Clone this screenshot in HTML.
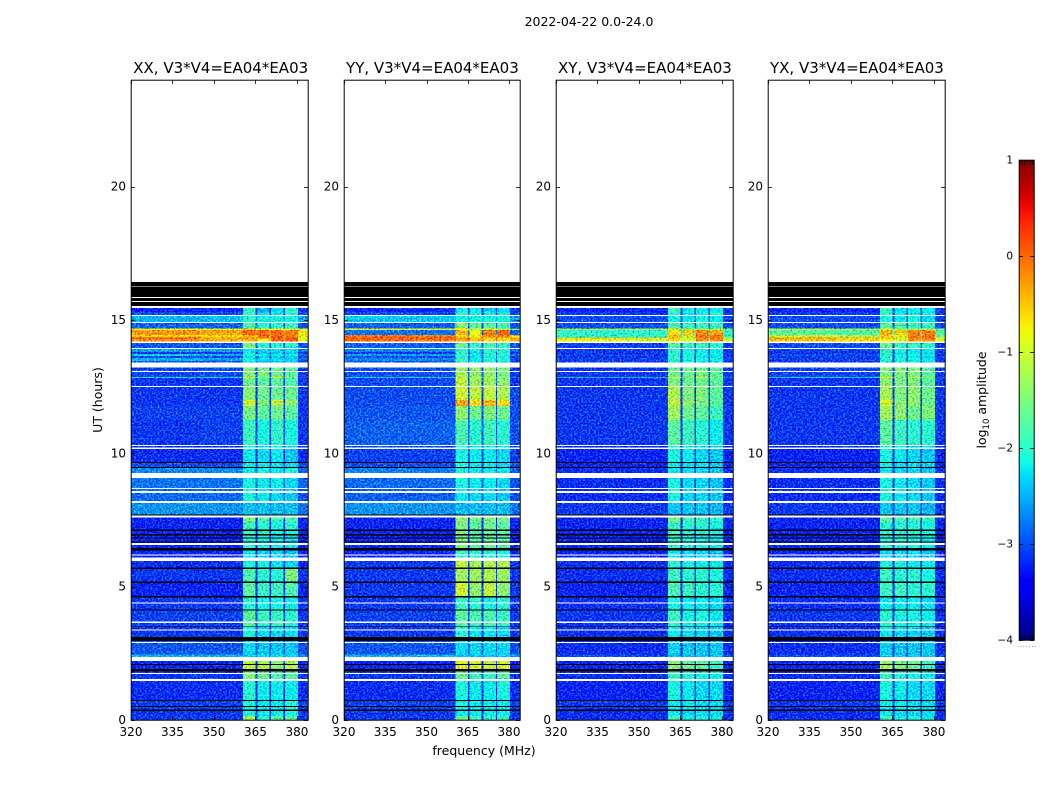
<!DOCTYPE html>
<html lang="en">
<head>
<meta charset="utf-8">
<title>2022-04-22 dynamic spectra</title>
<style>
html,body{margin:0;padding:0;background:#fff;width:1050px;height:800px;overflow:hidden}
svg{display:block}
text{font-family:"DejaVu Sans","Liberation Sans",sans-serif;fill:#000}
</style>
</head>
<body>
<svg id="fig" xmlns="http://www.w3.org/2000/svg" width="1050" height="800" viewBox="0 0 1050 800">
  <defs>
    <linearGradient id="jetGradient" x1="0" y1="1" x2="0" y2="0"></linearGradient>
    <filter id="speckle" x="0" y="0" width="1" height="1" color-interpolation-filters="sRGB">
      <feTurbulence type="fractalNoise" baseFrequency="0.55 0.6" numOctaves="1" seed="4" result="n"/>
      <feColorMatrix in="n" type="matrix" values="0.7 0 0 0 0.15  1.3 0 0 0 -0.15  0 1.1 0 0 -0.05  0 0 0 0 1" result="m"/>
      <feComposite in="SourceGraphic" in2="m" operator="arithmetic" k1="0" k2="1" k3="1" k4="-0.5"/>
    </filter>
  </defs>
  <text x="589" y="26" font-size="12.5" text-anchor="middle">2022-04-22 0.0-24.0</text>
  <text transform="translate(102,400) rotate(-90)" font-size="12.5" text-anchor="middle">UT (hours)</text>
  <text x="484" y="755" font-size="12.5" text-anchor="middle">frequency (MHz)</text>
  <text transform="translate(986,400) rotate(-90)" font-size="12.5" text-anchor="middle">log<tspan font-size="8.5" dy="3">10</tspan><tspan dy="-3"> amplitude</tspan></text>
  <g id="panels"></g>
  <g id="colorbar"></g>
</svg>
<script>
// Panel names and tick labels
const panelNames = ['XX', 'YY', 'XY', 'YX'];
const baselineLabel = 'V3*V4=EA04*EA03';
const freqTicks = [320, 335, 350, 365, 380];
const timeTicks = [0, 5, 10, 15, 20];
const colorTicks = [-4, -3, -2, -1, 0, 1];

// Frequency cell edges (MHz) and which amplitude column fills each cell
const freqEdges = [320, 345, 360.5, 365, 365.7, 370, 370.7, 375.2, 375.7, 380.4, 384];
const freqColumn = [0, 1, 2, 1, 3, 1, 4, 1, 5, 6];

// Time row edges (hours, top to bottom)
const timeEdges = [15.45,15.30,15.19,14.93,14.69,14.62,14.44,14.34,14.31,14.19,13.95,13.80,13.73,13.65,13.58,13.46,13.21,12.86,12.83,12.49,12.00,11.78,11.25,10.30,9.68,9.45,9.27,8.70,8.22,7.71,7.42,6.98,6.35,5.97,5.66,5.19,4.65,4.10,3.50,2.97,2.45,2.21,1.91,1.50,0.75,0.33,0.15,0];

// log10 amplitude per row: [low band, mid band, block 1, block 2, block 3, block 4, top band]
const ampXX = [
[-3.2,-3.2,-1.9,-2.5,-2.3,-2.0,-3.1],[-3.0,-3.0,-2.0,-2.3,-2.2,-2.0,-3.0],[-2.5,-2.45,-2.0,-2.1,-2.1,-2.1,-2.6],[-2.9,-2.9,-1.8,-2.0,-2.0,-1.9,-3.0],
[-0.85,-0.9,-0.5,-0.9,-0.8,-1.0,-1.0],[-0.25,-0.3,0.05,0.0,0.0,-0.1,-0.7],[-0.55,-0.65,-0.4,0.0,0.05,-0.1,-0.9],[0.3,-0.2,-0.2,0.0,0.05,0.1,-0.8],
[-0.2,-0.4,-0.4,-0.8,0.05,0.1,-0.9],[-2.95,-2.95,-1.5,-2.0,-2.0,-2.0,-3.0],[-2.6,-2.6,-2.2,-2.3,-2.3,-2.3,-2.8],[-3.1,-3.1,-2.2,-2.4,-2.4,-2.4,-3.1],
[-2.4,-2.5,-2.0,-2.2,-2.2,-2.2,-2.8],[-3.0,-3.0,-2.2,-2.4,-2.4,-2.4,-3.1],[-2.5,-2.6,-2.1,-2.3,-2.3,-2.3,-2.9],[-3.0,-3.0,-2.2,-2.4,-2.4,-2.4,-3.1],
[-3.05,-3.0,-1.5,-1.5,-1.6,-1.7,-3.1],[-2.3,-2.3,-0.7,-1.6,-0.7,-1.5,-2.9],[-3.1,-3.1,-1.6,-1.7,-1.7,-1.8,-3.1],[-3.1,-3.1,-1.45,-1.6,-1.6,-1.6,-3.1],
[-3.1,-3.1,-1.0,-1.5,-1.1,-1.4,-3.1],[-3.05,-3.05,-1.55,-1.7,-1.6,-1.7,-3.1],[-3.1,-3.05,-1.9,-2.1,-1.95,-2.1,-3.1],[-3.15,-3.15,-2.2,-2.3,-2.2,-2.4,-3.15],
[-3.0,-3.0,-2.2,-2.2,-2.3,-2.3,-3.0],[-2.7,-2.7,-2.2,-2.1,-2.2,-2.1,-2.9],[-2.8,-2.8,-2.1,-2.2,-2.2,-2.3,-2.9],[-2.85,-2.85,-2.1,-2.2,-2.3,-2.4,-3.0],
[-2.65,-2.65,-2.45,-2.45,-2.45,-2.45,-2.8],[-3.2,-3.2,-1.5,-1.8,-1.9,-1.8,-3.2],[-3.2,-3.2,-1.9,-2.0,-2.1,-2.0,-3.2],[-3.2,-3.2,-2.0,-2.1,-2.2,-2.2,-3.2],
[-3.2,-3.2,-2.2,-2.3,-2.3,-2.4,-3.2],[-3.15,-3.15,-2.1,-2.1,-2.2,-2.3,-3.2],[-3.1,-3.1,-1.8,-2.0,-2.0,-1.5,-3.1],[-3.2,-3.2,-1.7,-1.9,-1.9,-1.8,-3.2],
[-3.1,-3.1,-2.0,-2.1,-2.1,-2.2,-3.1],[-3.05,-3.05,-1.7,-1.9,-1.9,-2.0,-3.1],[-3.1,-3.1,-2.1,-2.3,-2.3,-2.3,-3.1],[-2.95,-2.95,-2.3,-2.4,-2.4,-2.4,-3.0],
[-2.5,-2.5,-2.4,-2.3,-2.3,-2.3,-2.7],[-3.2,-3.2,-1.1,-1.2,-1.4,-1.2,-3.2],[-3.1,-3.1,-1.5,-1.6,-1.8,-1.7,-3.1],[-3.15,-3.15,-2.0,-2.2,-2.2,-2.2,-3.15],
[-3.05,-3.05,-2.1,-2.2,-2.2,-2.0,-3.05],[-3.1,-3.1,-2.1,-2.2,-2.2,-2.1,-3.1],[-3.1,-3.1,-1.3,-2.0,-1.7,-1.7,-3.1]
];
const ampYY = [
[-3.2,-3.2,-2.2,-2.2,-2.4,-2.3,-3.1],[-3.0,-3.0,-2.0,-2.2,-2.2,-2.2,-3.0],[-2.4,-2.4,-2.1,-2.1,-2.1,-2.1,-2.6],[-2.9,-2.9,-1.4,-1.7,-1.7,-1.8,-3.0],
[-0.9,-0.9,-0.9,-1.1,-1.0,-1.2,-1.5],[-2.8,-2.8,-0.4,-0.8,-0.1,0.0,-2.9],[-0.05,-0.1,-0.6,-0.9,-0.2,-0.1,-0.6],[0.15,0.1,-0.3,-0.5,-0.6,-0.5,-0.2],
[0.0,-0.05,-0.3,-0.5,-0.6,-0.6,-0.4],[-2.9,-2.9,-1.6,-1.9,-1.8,-1.9,-3.0],[-2.7,-2.7,-2.0,-2.2,-2.0,-2.0,-2.9],[-3.1,-3.1,-2.0,-2.3,-2.1,-2.1,-3.1],
[-2.6,-2.6,-1.9,-2.1,-1.9,-2.0,-2.9],[-3.0,-3.0,-2.0,-2.3,-2.1,-2.1,-3.1],[-2.7,-2.7,-1.9,-2.2,-2.0,-2.0,-3.0],[-3.0,-3.0,-2.0,-2.2,-2.1,-2.2,-3.1],
[-3.0,-3.0,-1.3,-1.4,-1.4,-1.5,-3.1],[-2.4,-2.4,-0.6,-1.2,-1.0,-1.4,-2.9],[-3.0,-3.0,-1.1,-1.3,-1.3,-1.4,-3.1],[-3.0,-3.0,-1.0,-1.1,-1.1,-1.2,-3.0],
[-3.0,-3.0,-0.3,-0.6,-0.4,-0.6,-3.0],[-2.95,-2.95,-1.4,-1.6,-1.5,-1.6,-3.0],[-2.9,-2.9,-1.8,-2.0,-1.9,-2.0,-3.0],[-3.05,-3.05,-2.1,-2.2,-2.2,-2.3,-3.05],
[-3.0,-3.0,-2.1,-2.2,-2.2,-2.3,-3.0],[-2.75,-2.75,-2.1,-2.2,-2.2,-2.2,-2.9],[-2.85,-2.85,-2.1,-2.2,-2.2,-2.3,-3.0],[-2.9,-2.9,-2.2,-2.3,-2.3,-2.4,-3.0],
[-2.65,-2.65,-2.45,-2.45,-2.45,-2.45,-2.8],[-3.2,-3.2,-1.4,-1.6,-1.5,-1.5,-3.2],[-3.2,-3.2,-1.5,-1.7,-1.6,-1.7,-3.2],[-3.2,-3.2,-1.5,-1.7,-1.6,-1.7,-3.2],
[-3.2,-3.2,-1.9,-2.0,-2.0,-2.1,-3.2],[-3.1,-3.1,-1.1,-1.3,-1.2,-1.2,-3.1],[-3.1,-3.1,-1.3,-1.3,-1.2,-1.3,-3.1],[-3.1,-3.1,-1.0,-1.4,-1.1,-1.4,-3.1],
[-3.1,-3.1,-1.9,-2.0,-2.1,-2.0,-3.1],[-3.05,-3.05,-1.7,-1.8,-1.8,-1.9,-3.1],[-3.1,-3.1,-2.0,-2.2,-2.2,-2.3,-3.1],[-2.95,-2.95,-2.3,-2.3,-2.3,-2.3,-3.0],
[-2.5,-2.5,-2.4,-2.4,-2.4,-2.4,-2.6],[-3.2,-3.2,-0.9,-1.0,-1.1,-1.0,-3.2],[-3.1,-3.1,-1.6,-1.9,-1.9,-1.7,-3.1],[-3.15,-3.15,-2.1,-2.2,-2.2,-2.1,-3.15],
[-3.05,-3.05,-2.1,-2.2,-2.2,-2.2,-3.05],[-3.1,-3.1,-2.2,-2.2,-2.2,-2.2,-3.1],[-3.1,-3.1,-1.6,-1.9,-1.9,-1.9,-3.1]
];
const ampXY = [
[-3.2,-3.2,-1.9,-2.2,-2.2,-2.2,-3.1],[-3.1,-3.1,-2.0,-2.2,-2.2,-2.1,-3.1],[-3.0,-3.0,-2.1,-2.2,-2.1,-2.2,-3.05],[-3.0,-3.0,-1.8,-1.9,-1.9,-1.9,-3.0],
[-1.3,-1.3,-1.0,-1.3,-1.2,-1.3,-1.5],[-1.95,-1.95,-0.6,-0.5,-0.15,-0.3,-1.9],[-2.0,-2.0,-0.5,-1.1,-0.05,-0.05,-2.0],[-0.4,-0.5,-0.4,-0.9,-0.1,-0.1,-1.0],
[-0.9,-1.0,-0.7,-1.0,-0.2,-0.2,-1.1],[-3.05,-3.05,-1.7,-1.9,-1.9,-2.0,-3.1],[-3.1,-3.1,-2.0,-2.1,-2.2,-2.2,-3.1],[-3.1,-3.1,-2.0,-2.1,-2.2,-2.2,-3.1],
[-3.05,-3.05,-2.0,-2.1,-2.1,-2.2,-3.1],[-3.1,-3.1,-2.0,-2.1,-2.2,-2.2,-3.1],[-3.05,-3.05,-2.0,-2.1,-2.1,-2.2,-3.1],[-3.1,-3.1,-2.1,-2.2,-2.2,-2.3,-3.1],
[-3.1,-3.1,-1.6,-1.6,-1.6,-1.7,-3.1],[-2.5,-2.5,-0.8,-1.5,-0.8,-1.5,-2.9],[-3.1,-3.1,-1.5,-1.6,-1.6,-1.7,-3.1],[-3.1,-3.1,-1.2,-1.5,-1.5,-1.7,-3.1],
[-3.1,-3.1,-1.1,-1.4,-1.5,-1.7,-3.1],[-3.1,-3.1,-1.3,-1.6,-1.7,-1.9,-3.1],[-3.1,-3.1,-1.7,-1.9,-2.0,-2.2,-3.1],[-3.2,-3.2,-2.1,-2.2,-2.3,-2.4,-3.2],
[-3.2,-3.2,-2.2,-2.3,-2.3,-2.4,-3.2],[-3.15,-3.15,-2.2,-2.3,-2.3,-2.4,-3.15],[-3.15,-3.15,-2.1,-2.3,-2.3,-2.4,-3.15],[-3.15,-3.15,-2.1,-2.3,-2.3,-2.4,-3.15],
[-3.1,-3.1,-2.4,-2.4,-2.4,-2.5,-3.1],[-3.2,-3.2,-1.6,-1.9,-1.9,-2.0,-3.2],[-3.2,-3.2,-1.9,-2.0,-2.0,-2.1,-3.2],[-3.2,-3.2,-1.9,-2.0,-2.1,-2.2,-3.2],
[-3.2,-3.2,-2.2,-2.3,-2.3,-2.4,-3.2],[-3.15,-3.15,-2.0,-2.1,-2.2,-2.2,-3.15],[-3.15,-3.15,-1.9,-2.0,-2.0,-2.1,-3.15],[-3.2,-3.2,-1.8,-1.9,-2.0,-2.0,-3.2],
[-3.15,-3.15,-2.1,-2.2,-2.2,-2.3,-3.15],[-3.1,-3.1,-1.9,-2.1,-2.1,-2.2,-3.15],[-3.15,-3.15,-2.2,-2.3,-2.3,-2.4,-3.15],[-3.15,-3.15,-2.35,-2.4,-2.4,-2.4,-3.15],
[-3.0,-3.0,-2.4,-2.4,-2.4,-2.4,-3.0],[-3.2,-3.2,-1.4,-1.6,-1.7,-1.9,-3.2],[-3.15,-3.15,-1.9,-2.0,-2.1,-2.2,-3.15],[-3.2,-3.2,-2.1,-2.2,-2.3,-2.3,-3.2],
[-3.1,-3.1,-2.2,-2.2,-2.3,-2.3,-3.1],[-3.15,-3.15,-2.2,-2.3,-2.3,-2.3,-3.15],[-3.15,-3.15,-1.9,-2.1,-2.1,-2.2,-3.15]
];
const ampYX = [
[-3.2,-3.2,-1.9,-2.3,-2.2,-2.2,-3.1],[-3.1,-3.1,-2.0,-2.2,-2.2,-2.2,-3.1],[-3.0,-3.0,-2.1,-2.2,-2.1,-2.3,-3.05],[-3.0,-3.0,-1.7,-1.8,-1.9,-1.9,-3.0],
[-1.2,-1.3,-1.0,-1.3,-1.2,-1.3,-1.6],[-1.7,-1.75,-0.4,-0.5,-0.15,-0.1,-1.8],[-1.1,-1.2,-0.5,-1.0,-0.1,0.0,-1.5],[-0.2,-0.4,-0.5,-0.9,-0.1,-0.05,-1.0],
[-0.5,-0.6,-0.7,-1.0,-0.2,-0.2,-1.0],[-3.0,-3.0,-1.6,-1.9,-1.9,-2.0,-3.1],[-3.05,-3.05,-2.0,-2.1,-2.2,-2.2,-3.1],[-3.1,-3.1,-2.0,-2.2,-2.2,-2.3,-3.1],
[-3.0,-3.0,-2.0,-2.1,-2.1,-2.2,-3.1],[-3.1,-3.1,-2.0,-2.1,-2.2,-2.3,-3.1],[-3.05,-3.05,-2.0,-2.1,-2.1,-2.2,-3.1],[-3.1,-3.1,-2.1,-2.2,-2.2,-2.3,-3.1],
[-3.05,-3.05,-1.5,-1.5,-1.5,-1.7,-3.1],[-2.4,-2.4,-0.7,-1.6,-0.9,-1.4,-2.9],[-3.1,-3.1,-1.4,-1.5,-1.5,-1.7,-3.1],[-3.1,-3.1,-1.25,-1.5,-1.4,-1.6,-3.1],
[-3.1,-3.1,-1.0,-1.4,-1.4,-1.6,-3.1],[-3.1,-3.1,-1.3,-1.4,-1.6,-1.5,-3.1],[-3.1,-3.1,-1.7,-1.9,-2.0,-2.0,-3.1],[-3.2,-3.2,-2.1,-2.2,-2.3,-2.4,-3.2],
[-3.2,-3.2,-2.2,-2.3,-2.3,-2.4,-3.2],[-3.15,-3.15,-2.2,-2.3,-2.3,-2.4,-3.15],[-3.15,-3.15,-2.1,-2.2,-2.3,-2.4,-3.15],[-3.15,-3.15,-2.1,-2.2,-2.3,-2.4,-3.15],
[-3.1,-3.1,-2.4,-2.4,-2.4,-2.5,-3.1],[-3.2,-3.2,-1.7,-1.9,-1.9,-2.0,-3.2],[-3.2,-3.2,-2.0,-2.0,-2.0,-2.1,-3.2],[-3.2,-3.2,-2.0,-2.0,-2.1,-2.2,-3.2],
[-3.2,-3.2,-2.3,-2.3,-2.3,-2.4,-3.2],[-3.15,-3.15,-2.1,-2.1,-2.2,-2.2,-3.15],[-3.15,-3.15,-1.9,-2.0,-2.0,-2.1,-3.15],[-3.2,-3.2,-1.9,-1.9,-2.0,-2.0,-3.2],
[-3.15,-3.15,-2.2,-2.2,-2.2,-2.3,-3.15],[-3.1,-3.1,-2.0,-2.1,-2.1,-2.2,-3.15],[-3.15,-3.15,-2.2,-2.3,-2.3,-2.4,-3.15],[-3.15,-3.15,-2.35,-2.4,-2.4,-2.4,-3.15],
[-3.0,-3.0,-2.4,-2.4,-2.4,-2.4,-3.0],[-3.2,-3.2,-1.3,-1.5,-1.6,-1.9,-3.2],[-3.15,-3.15,-1.9,-2.0,-2.1,-2.2,-3.15],[-3.2,-3.2,-2.1,-2.2,-2.3,-2.3,-3.2],
[-3.1,-3.1,-2.2,-2.2,-2.3,-2.3,-3.1],[-3.15,-3.15,-2.2,-2.3,-2.3,-2.3,-3.15],[-3.15,-3.15,-1.9,-2.1,-2.1,-2.2,-3.15]
];

// Flagged time ranges (hours): [start, end]; shared by all panels
const whiteBands = [[15.15,15.19],[14.89,14.93],[14.14,14.19],[13.91,13.95],[13.21,13.40],[13.05,13.09],[12.49,12.53],[10.28,10.31],[10.17,10.21],[9.08,9.27],[8.66,8.70],[8.52,8.58],[8.14,8.22],[7.59,7.68],[6.57,6.63],[6.16,6.21],[5.97,6.09],[4.36,4.40],[3.64,3.69],[3.35,3.39],[2.89,2.92],[2.21,2.37],[1.73,1.76],[1.47,1.54],[15.45,15.53]];
const blackBands = [[16.28,16.43],[15.86,16.25],[15.71,15.82],[15.53,15.68],[9.64,9.68],[9.45,9.48],[7.67,7.71],[7.09,7.15],[6.91,6.98],[6.80,6.85],[6.65,6.70],[6.35,6.45],[5.66,5.71],[5.14,5.19],[4.59,4.65],[4.10,4.15],[3.50,3.53],[2.97,3.12],[2.06,2.10],[1.81,1.91],[0.71,0.75],[0.49,0.53],[0.33,0.39]];

const panelSeries = [ampXX, ampYY, ampXY, ampYX];
const panelLeft = [131, 344, 556, 768];
const panelWidth = [177, 176, 177, 177];

const SVGNS = 'http://www.w3.org/2000/svg';
const plotTop = 80, plotBottom = 720;
const F_MIN = 320, F_MAX = 384, T_MIN = 0, T_MAX = 24;
const C_MIN = -4, C_MAX = 1, CB_TOP = 160, CB_BOTTOM = 640, CB_LEFT = 1019, CB_W = 15;

function xScale(left, w, f) { return left + (f - F_MIN) / (F_MAX - F_MIN) * w; }
function yScale(t) { return plotBottom - (t - T_MIN) / (T_MAX - T_MIN) * (plotBottom - plotTop); }
function cScale(v) { return CB_BOTTOM - (v - C_MIN) / (C_MAX - C_MIN) * (CB_BOTTOM - CB_TOP); }

function piece(v, pts) {
  if (v <= pts[0][0]) return pts[0][1];
  for (let i = 1; i < pts.length; i++) {
    if (v <= pts[i][0]) {
      const a = pts[i - 1], b = pts[i];
      return a[1] + (v - a[0]) / (b[0] - a[0]) * (b[1] - a[1]);
    }
  }
  return pts[pts.length - 1][1];
}
function jet(v) {
  const n = (v - C_MIN) / (C_MAX - C_MIN);
  const r = piece(n, [[0.35, 0], [0.66, 1], [0.89, 1], [1, 0.5]]);
  const g = piece(n, [[0.125, 0], [0.375, 1], [0.64, 1], [0.91, 0]]);
  const b = piece(n, [[0, 0.5], [0.11, 1], [0.34, 1], [0.65, 0]]);
  return 'rgb(' + Math.round(r * 255) + ',' + Math.round(g * 255) + ',' + Math.round(b * 255) + ')';
}
function make(tag, attrs, parent) {
  const el = document.createElementNS(SVGNS, tag);
  for (const k in attrs) el.setAttribute(k, attrs[k]);
  parent.appendChild(el);
  return el;
}

const panelsRoot = document.getElementById('panels');
panelNames.forEach(function (name, p) {
  const left = panelLeft[p];
  const plotW = panelWidth[p];
  const right = left + plotW;
  const series = panelSeries[p];
  const g = make('g', {}, panelsRoot);
  
  

  const heat = make('g', { 'shape-rendering': 'crispEdges', filter: 'url(#speckle)' }, g);
  
  
  series.forEach(function (row, r) {
    const y0 = yScale(timeEdges[r]), y1 = yScale(timeEdges[r + 1]);
    freqColumn.forEach(function (col, c) {
      const x0 = xScale(left, plotW, freqEdges[c]), x1 = xScale(left, plotW, freqEdges[c + 1]);
      const cell = make('rect', { x: x0, y: y0, width: x1 - x0, height: y1 - y0, fill: jet(row[col]) }, heat);
      
      
    });
  });
  const flags = make('g', { 'shape-rendering': 'crispEdges' }, g);
  
  
  whiteBands.forEach(function (band) {
    const b = make('rect', { x: left, y: yScale(band[1]), width: plotW, height: yScale(band[0]) - yScale(band[1]), fill: '#fff' }, flags);
    
    
  });
  blackBands.forEach(function (band) {
    const b = make('rect', { x: left, y: yScale(band[1]), width: plotW, height: yScale(band[0]) - yScale(band[1]), fill: '#000' }, flags);
    
    
  });

  const frame = make('rect', { x: left + 0.2, y: plotTop + 0.2, width: plotW, height: plotBottom - plotTop, fill: 'none', stroke: '#000', 'stroke-width': 1 }, g);
  
  

  const title = make('text', { x: left + plotW / 2 + (p === 0 ? 1.2 : 0.4), y: 73, 'font-size': 15, 'text-anchor': 'middle' }, g);
  
  
  title.textContent = name + ', ' + baselineLabel;

  freqTicks.forEach(function (f) {
    const x = Math.round(xScale(left, plotW, f)) + 0.5;
    const t1 = make('line', { x1: x, x2: x, y1: plotBottom, y2: plotBottom - 4, stroke: '#000', 'stroke-width': 0.8 }, g);
    
    
    const t2 = make('line', { x1: x, x2: x, y1: plotTop, y2: plotTop + 4, stroke: '#000', 'stroke-width': 0.8 }, g);
    
    
    const lab = make('text', { x: xScale(left, plotW, f), y: 736, 'font-size': 12, 'text-anchor': 'middle' }, g);
    
    
    lab.textContent = String(f);
  });
  timeTicks.forEach(function (t) {
    const y = Math.round(yScale(t)) + 0.5;
    const t1 = make('line', { x1: left, x2: left + 4, y1: y, y2: y, stroke: '#000', 'stroke-width': 0.8 }, g);
    
    
    const t2 = make('line', { x1: right, x2: right - 4, y1: y, y2: y, stroke: '#000', 'stroke-width': 0.8 }, g);
    
    
    const lab = make('text', { x: left - 5, y: yScale(t) + 4, 'font-size': 12, 'text-anchor': 'end' }, g);
    
    
    lab.textContent = String(t);
  });
});

// Colorbar
const grad = document.getElementById('jetGradient');
for (let i = 0; i <= 40; i++) {
  const v = C_MIN + (C_MAX - C_MIN) * i / 40;
  make('stop', { offset: (i / 40), 'stop-color': jet(v) }, grad);
}
const cbRoot = document.getElementById('colorbar');
const cbRect = make('rect', { x: CB_LEFT + 0.2, y: CB_TOP + 0.2, width: CB_W, height: CB_BOTTOM - CB_TOP, fill: 'url(#jetGradient)', stroke: '#000', 'stroke-width': 1 }, cbRoot);


colorTicks.forEach(function (v) {
  const y = Math.round(cScale(v)) + 0.5;
  const a = make('line', { x1: CB_LEFT, x2: CB_LEFT + 4, y1: y, y2: y, stroke: '#000', 'stroke-width': 0.8 }, cbRoot);
  
  
  const b = make('line', { x1: CB_LEFT + CB_W, x2: CB_LEFT + CB_W - 4, y1: y, y2: y, stroke: '#000', 'stroke-width': 0.8 }, cbRoot);
  
  
  const lab = make('text', { x: 1013, y: cScale(v) + 3.5, 'font-size': 10.5, 'text-anchor': 'end' }, cbRoot);
  
  
  lab.textContent = (v < 0 ? '\u2212' + Math.abs(v) : String(v));
});
[CB_TOP, CB_BOTTOM - 5].forEach(function (yy) {
  for (let i = 0; i < 5; i++) {
    const x = CB_LEFT + 3 + i * 2.7;
    const m = make('line', { x1: x, x2: x, y1: yy, y2: yy + 5, stroke: '#000', 'stroke-width': 0.7 }, cbRoot);
    
    
  }
});
for (let i = 0; i < 7; i++) {
  const d = make('rect', { x: 1017.5 + i * 2.9, y: 646, width: 1, height: 1, fill: '#999' }, cbRoot);
  
  
}
</script>
</body>
</html>
